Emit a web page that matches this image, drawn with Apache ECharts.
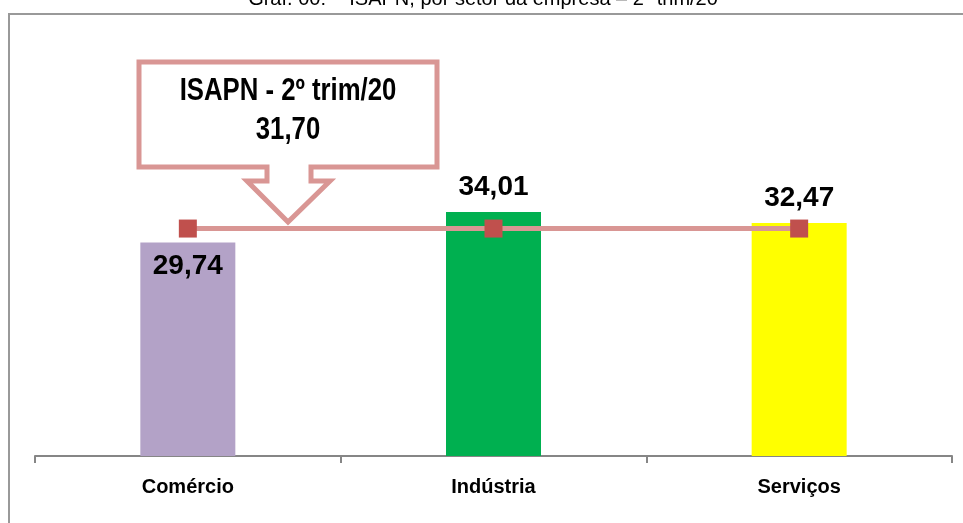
<!DOCTYPE html>
<html>
<head>
<meta charset="utf-8">
<script src="https://cdn.jsdelivr.net/npm/echarts@6/dist/echarts.min.js"></script>
<style>
  html, body {margin: 0; padding: 0; background: #fff;}
  #main {width: 963px; height: 523px;}
</style>
</head>
<body>
<div id="main"></div>
<script>
// setores e valores do ISAPN
const setores = ['Comércio', 'Indústria', 'Serviços']
const valores = [29.74, 34.01, 32.47]
const cores = ['#B3A2C7', '#00B050', '#FFFF00']
const isapn = 31.70
const mediaLinha = [isapn, isapn, isapn]

const fonte = '"Liberation Sans", Arial, sans-serif'
const fmt = v => v.toFixed(2).replace('.', ',')

const chart = echarts.init(document.getElementById('main'))

const option = {
  animation: false,
  grid: {left: 35, right: 11, top: 169, bottom: 67},
  xAxis: {
    type: 'category',
    data: setores,
    axisLine: {lineStyle: {color: '#868686', width: 2}},
    axisTick: {show: true, length: 7, lineStyle: {color: '#868686', width: 2}},
    axisLabel: {
      color: '#000',
      fontFamily: fonte,
      fontWeight: 'bold',
      fontSize: 20,
      margin: 21,
    },
  },
  yAxis: {type: 'value', min: 0, max: 40, show: false},
  series: [
    {
      type: 'bar',
      barWidth: 95,
      data: valores.map((v, i) => ({
        value: v,
        itemStyle: {color: cores[i]},
        label: {position: i === 0 ? 'insideTop' : 'top', distance: i === 0 ? 10 : 11},
      })),
      label: {
        show: true,
        color: '#000',
        fontFamily: fonte,
        fontWeight: 'bold',
        fontSize: 28,
        formatter: p => fmt(p.value),
      },
      z: 2,
    },
    {
      type: 'line',
      data: mediaLinha,
      symbol: 'rect',
      symbolSize: 18,
      lineStyle: {color: '#D99694', width: 5},
      itemStyle: {color: '#C0504D', borderWidth: 0},
      z: 5,
    },
  ],
  graphic: [
    // moldura
    {
      type: 'rect',
      shape: {x: 9, y: 14, width: 1000, height: 600},
      style: {fill: 'none', stroke: '#999', lineWidth: 2},
      silent: true,
    },
    // título (cortado no topo)
    {
      type: 'text',
      x: 483,
      y: 9,
      style: {
        text: 'Graf. 00:  - ISAPN, por setor da empresa – 2º trim/20',
        fill: '#000',
        font: '20px ' + fonte,
        textAlign: 'center',
        textVerticalAlign: 'bottom',
      },
    },
    // balão
    {
      type: 'polygon',
      shape: {
        points: [
          [139, 62], [437, 62], [437, 167], [311, 167], [311, 181], [330, 181],
          [288, 222], [247, 181], [267, 181], [267, 167], [139, 167],
        ],
      },
      style: {fill: '#fff', stroke: '#D99694', lineWidth: 5, lineJoin: 'miter'},
      z: 10,
    },
    {
      type: 'text',
      x: 288,
      y: 111,
      scaleX: 0.83,
      style: {
        text: 'ISAPN - 2º trim/20\n' + fmt(isapn),
        fill: '#000',
        font: 'bold 31px ' + fonte,
        textAlign: 'center',
        textVerticalAlign: 'middle',
        lineHeight: 39,
      },
      z: 11,
    },
  ],
}

chart.setOption(option)
</script>
</body>
</html>
